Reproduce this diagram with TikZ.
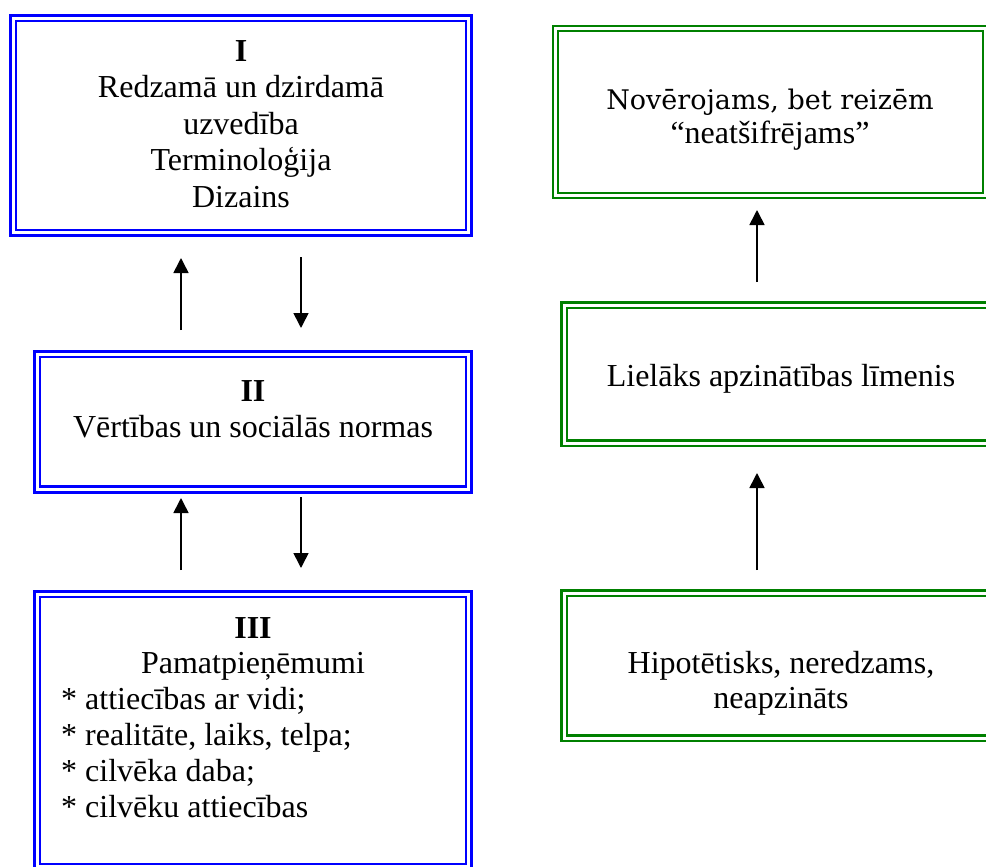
\documentclass[tikz,border=0pt]{standalone}
\usepackage{fontspec}
\setmainfont{Liberation Serif}
\newfontfamily\notefont{DejaVu Serif}
\usetikzlibrary{arrows.meta}
\definecolor{boxblue}{RGB}{0,0,255}
\definecolor{boxgreen}{RGB}{0,128,0}
\begin{document}
\begin{tikzpicture}[x=1pt,y=-1pt,
  frame/.style={rectangle, draw, double, inner sep=0pt, outer sep=0pt},
  bluebox/.style={frame, draw=boxblue, line width=2.7pt, double distance=3pt},
  greenbox/.style={frame, draw=boxgreen, line width=2.3pt, double distance=3pt},
  txt/.style={anchor=base, inner sep=0pt, font=\fontsize{32}{36}\selectfont},
  arr/.style={line width=1.6pt, -{Triangle[width=15pt,length=15pt]}}]
\useasboundingbox (0,0) rectangle (986,867);
\clip (0,0) rectangle (986,867);

% left column: three levels
\node[bluebox, minimum width=455.6pt, minimum height=214.6pt] (boxI) at (241,125.5) {};
\node[bluebox, minimum width=431.6pt, minimum height=135.1pt] (boxII) at (253,421.75) {};
\node[bluebox, minimum width=431.6pt, minimum height=272.6pt] (boxIII) at (253,730.5) {};

\node[txt] (t1a) at (241,62) {\bfseries I};
\node[txt] (t1b) at (241,98) {Redzamā un dzirdamā};
\node[txt] (t1c) at (241,134) {uzvedība};
\node[txt] (t1d) at (241,170) {Terminoloģija};
\node[txt] (t1e) at (241,207) {Dizains};

\node[txt] (t2a) at (253,401) {\bfseries II};
\node[txt] (t2b) at (253,437) {Vērtības un sociālās normas};

\node[txt] (t3a) at (253,638) {\bfseries III};
\node[txt] (t3b) at (253,673) {Pamatpieņēmumi};
\node[txt, anchor=base west] (t3c) at (61,709) {* attiecības ar vidi;};
\node[txt, anchor=base west] (t3d) at (61,745) {* realitāte, laiks, telpa;};
\node[txt, anchor=base west] (t3e) at (61,781) {* cilvēka daba;};
\node[txt, anchor=base west] (t3f) at (61,817) {* cilvēku attiecības};

% right column: visibility scale
\node[greenbox, minimum width=430pt, minimum height=166.8pt] (boxA) at (770.6,112) {};
\node[greenbox, minimum width=431pt, minimum height=138pt] (boxB) at (779.5,374) {};
\node[greenbox, minimum width=431pt, minimum height=145pt] (boxC) at (779.5,665.5) {};

\node[txt, font=\notefont\fontsize{27}{32}\selectfont] (tAa) at (770,110) {Novērojams, bet reizēm};
\node[txt] (tAb) at (770,143) {“neatšifrējams”};
\node[txt] (tB) at (781,386) {Lielāks apzinātības līmenis};
\node[txt] (tCa) at (781,673) {Hipotētisks, neredzams,};
\node[txt] (tCb) at (781,708) {neapzināts};

% arrow end points
\coordinate (u1s) at (181,330); \coordinate (u1e) at (181,258);
\coordinate (d1s) at (301,257); \coordinate (d1e) at (301,328);
\coordinate (u2s) at (181,570); \coordinate (u2e) at (181,498);
\coordinate (d2s) at (301,497); \coordinate (d2e) at (301,568);
\coordinate (r1s) at (757,282); \coordinate (r1e) at (757,210);
\coordinate (r2s) at (757,570); \coordinate (r2e) at (757,473);

\draw[arr] (u1s) -- (u1e);
\draw[arr] (d1s) -- (d1e);
\draw[arr] (u2s) -- (u2e);
\draw[arr] (d2s) -- (d2e);
\draw[arr] (r1s) -- (r1e);
\draw[arr] (r2s) -- (r2e);
\end{tikzpicture}
\end{document}
